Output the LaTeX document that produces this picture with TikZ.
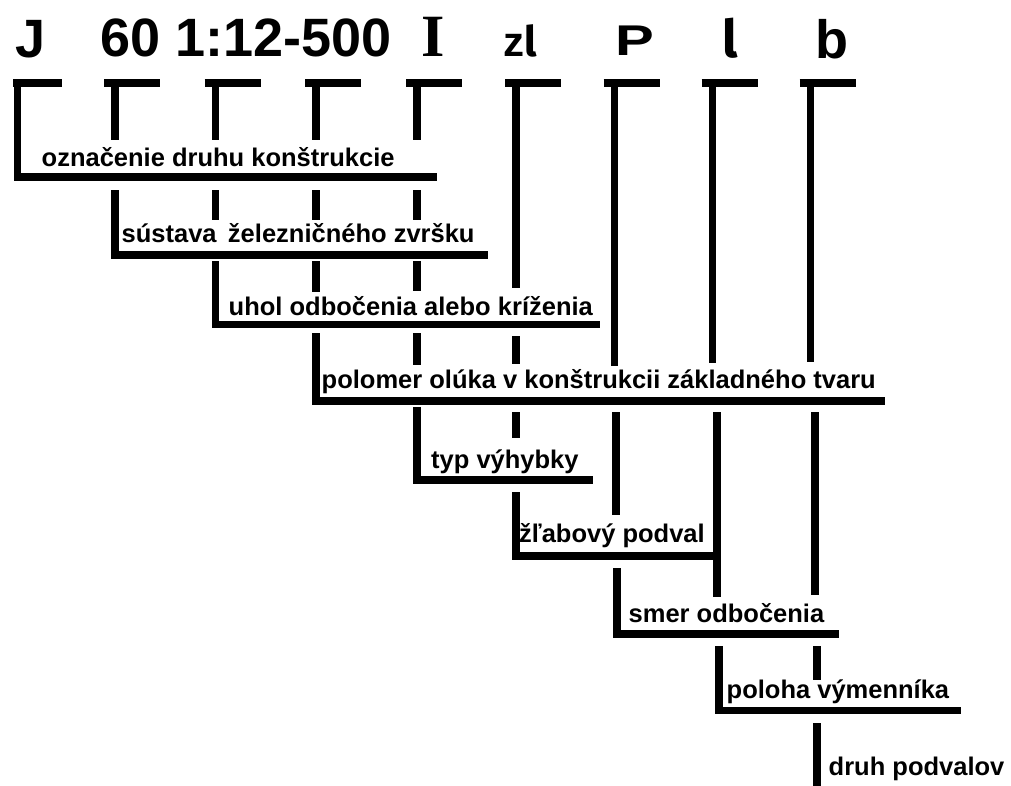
\documentclass[tikz,border=0pt]{standalone}
\usepackage{fontspec}
\setmainfont{Liberation Sans}
\newfontfamily\serifbold{Liberation Serif}
\newfontfamily\firasans{Fira Sans}
\begin{document}
\begin{tikzpicture}[x=1pt,y=-1pt,
  seg/.style={line width=7.5pt, line cap=butt, line join=miter},
  lbl/.style={anchor=base west, inner sep=0pt, font=\fontsize{25.5}{30}\selectfont\bfseries},
  code/.style={anchor=base west, inner sep=0pt, font=\fontsize{54}{60}\selectfont\bfseries}]
\useasboundingbox (0,0) rectangle (1011,785);
\fill[white] (0,0) rectangle (1011,785);

% top code labels
\node[code] (cJ) at (15.5,57) {J};
\node[code] (c60) at (100,56) {60 1:12-500};
\node[code, font=\fontsize{60}{66}\selectfont\serifbold\bfseries] (cI) at (421,56) {I};
\node[code, font=\fontsize{42}{48}\selectfont\bfseries] (czl) at (503,56) {z{\firasans l}};
\node[code, font=\fontsize{43}{48}\selectfont\bfseries, xscale=1.35] (cP) at (615,55) {P};
\node[code, font=\fontsize{52}{58}\selectfont\firasans\bfseries] (cl) at (722,57) {l};
\node[code] (cb) at (815,58) {b};

% top bars
\foreach \c in {115,215.5,316,417,516,614.5,712.5,810.5}
  \draw[seg] (\c-11,83) -- (\c+45,83);
\draw[seg] (13,83) -- (62,83);

% description labels
\node[lbl] (t1) at (41.5,166) {označenie druhu konštrukcie};
\node[lbl] (t2) at (121.5,242) {sústava\, železničného zvršku};
\node[lbl] (t3) at (228.5,315) {uhol odbočenia alebo kríženia};
\node[lbl] (t4) at (321.5,388) {polomer olúka v konštrukcii základného tvaru};
\node[lbl] (t5) at (431,468) {typ výhybky};
\node[lbl] (t6) at (519,542) {žľabový podval};
\node[lbl] (t7) at (628.5,622) {smer odbočenia};
\node[lbl] (t8) at (726.5,698) {poloha výmenníka};
\node[lbl] (t9) at (828.5,775) {druh podvalov};

% brackets
\draw[seg] (17.5,79) -- (17.5,177) -- (437,177);
\draw[seg] (115,190) -- (115,255) -- (488,255);
\draw[seg] (215.5,261) -- (215.5,324.5) -- (600,324.5);
\draw[seg] (316,333) -- (316,401) -- (885,401);
\draw[seg] (417,407) -- (417,480) -- (593,480);
\draw[seg] (516,492) -- (516,556) -- (713,556);
\draw[seg] (617,568) -- (617,634) -- (839,634);
\draw[seg] (719,646) -- (719,710.5) -- (961,710.5);
\draw[seg] (817,723) -- (817,790);

% pass-through segments
\draw[seg] (115,79) -- (115,140);
\draw[seg] (215.5,79) -- (215.5,140);
\draw[seg] (215.5,190) -- (215.5,220);
\draw[seg] (316,79) -- (316,140);
\draw[seg] (316,190) -- (316,220);
\draw[seg] (316,261) -- (316,292);
\draw[seg] (417,79) -- (417,140);
\draw[seg] (417,190) -- (417,220);
\draw[seg] (417,261) -- (417,291);
\draw[seg] (417,333) -- (417,365);
\draw[seg] (516,79) -- (516,288);
\draw[seg] (516,336) -- (516,364);
\draw[seg] (516,412) -- (516,438);
\draw[seg] (614.5,79) -- (614.5,366);
\draw[seg] (616,412) -- (616,515);
\draw[seg] (712.5,79) -- (712.5,363);
\draw[seg] (717,412) -- (717,597);
\draw[seg] (810.5,79) -- (810.5,362);
\draw[seg] (815,412) -- (815,595);
\draw[seg] (817,646) -- (817,680);
\end{tikzpicture}
\end{document}
